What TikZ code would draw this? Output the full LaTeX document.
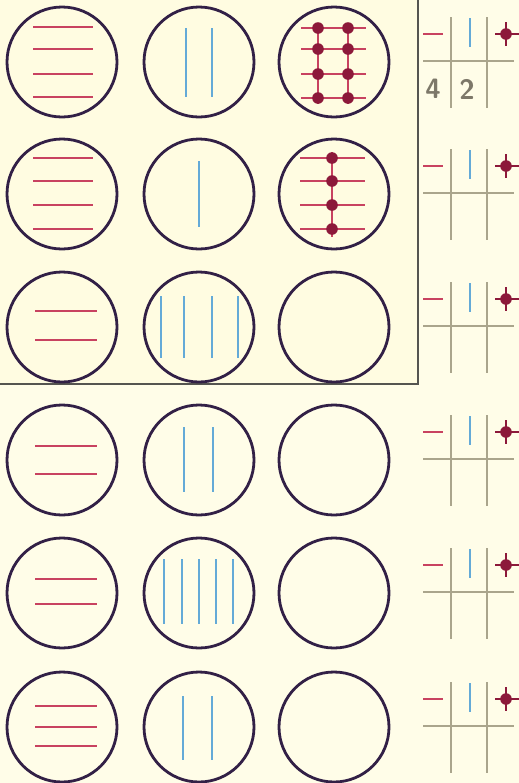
\documentclass[tikz,border=0pt]{standalone}
\usepackage{tikz}

\definecolor{paper}{RGB}{255,253,232}
\definecolor{panel}{RGB}{255,252,225}
\definecolor{ringcol}{RGB}{50,32,70}
\definecolor{redcol}{RGB}{200,66,96}
\definecolor{bluecol}{RGB}{100,170,215}
\definecolor{dotcol}{RGB}{140,25,58}
\definecolor{gridcol}{RGB}{170,165,140}
\definecolor{digitcol}{RGB}{125,120,105}
\definecolor{framecol}{RGB}{85,85,80}

\begin{document}
\begin{tikzpicture}[x=0.5pt,y=-0.5pt,
    ring/.style={circle,draw=ringcol,line width=1.4pt,minimum size=55pt,inner sep=0pt},
    redl/.style={draw=redcol,line width=0.85pt},
    bluel/.style={draw=bluecol,line width=0.75pt},
    gridl/.style={draw=gridcol,line width=0.7pt},
    dotl/.style={draw=dotcol,line width=0.8pt},
    digit/.style={text=digitcol,font=\fontsize{14}{14}\sffamily\bfseries,inner sep=0pt}]
        \fill[paper] (0,0) rectangle (519,783);
        \useasboundingbox (0,0) rectangle (519,783);
        \fill[panel] (0,0) rectangle (418,384);
        \draw[framecol,line width=0.6pt] (418,0) -- (418,384) -- (0,384);
        % circles
        \foreach \y [count=\i] in {62,194,327,460,593,727} \foreach \x [count=\j] in {62,199,334}
            \node[ring] (c\i\j) at (\x,\y) {};
        % row 1
        \foreach \d in {-35,-13,12,35} \draw[redl] (c11.center) ++(-29,\d) -- ++(60,0);
        \foreach \s in {-13,13} \draw[bluel] (c12.center) ++(\s,-34) -- ++(0,69);
        \foreach \d in {-34,-13,12,36} \draw[redl] (c13.center) ++(-33,\d) -- ++(65,0);
        \foreach \s in {-16,14}{
            \draw[redl] (c13.center) ++(\s,-39) -- ++(0,81);
            \foreach \d in {-34,-13,12,36} \fill[dotcol] (c13.center) ++(\s,\d) circle (2.9pt);
        }
        % row 2
        \foreach \d in {-36,-13,11,35} \draw[redl] (c21.center) ++(-29,\d) -- ++(60,0);
        \draw[bluel] (c22.center) ++(0,-33) -- ++(0,66);
        \draw[redl] (c23.center) ++(-2,-42) -- ++(0,85);
        \foreach \d in {-36,-13,11,35}{
            \draw[redl] (c23.center) ++(-34,\d) -- ++(65,0);
            \fill[dotcol] (c23.center) ++(-2,\d) circle (2.9pt);
        }
        % row 3
        \foreach \d in {-16,13} \draw[redl] (c31.center) ++(-27,\d) -- ++(62,0);
        \foreach \s in {-38,-15,13,39} \draw[bluel] (c32.center) ++(\s,-31) -- ++(0,62);
        % row 4
        \foreach \d in {-14,14} \draw[redl] (c41.center) ++(-27,\d) -- ++(62,0);
        \foreach \s in {-15,14} \draw[bluel] (c42.center) ++(\s,-33) -- ++(0,65);
        % row 5
        \foreach \d in {-14,11} \draw[redl] (c51.center) ++(-27,\d) -- ++(62,0);
        \foreach \s in {-35,-17,0,17,34} \draw[bluel] (c52.center) ++(\s,-34) -- ++(0,65);
        % row 6
        \foreach \d in {-21,0,19} \draw[redl] (c61.center) ++(-27,\d) -- ++(62,0);
        \foreach \s in {-16,13} \draw[bluel] (c62.center) ++(\s,-31) -- ++(0,64);
        % keys
        \foreach \y [count=\i] in {62,194,327,460,593,727}{
            \coordinate (k\i) at (470,\y);
            \draw[redl] (k\i) ++(-47,-28) -- ++(20,0);
            \draw[gridl] (k\i) ++(-19,-45) -- ++(0,91);
            \draw[gridl] (k\i) ++(17,-45) -- ++(0,91);
            \draw[gridl] (k\i) ++(-47,-1) -- ++(91,0);
            \draw[bluel] (k\i) ++(0,-44) -- ++(0,29);
            \draw[dotl] (k\i) ++(25,-28) -- ++(24,0);
            \draw[dotl] (k\i) ++(36,-40) -- ++(0,24);
            \fill[dotcol] (k\i) ++(36,-28) circle (2.9pt);
        }
        \node[digit] (n4) at (433,89) {4};
        \node[digit] (n2) at (467,89) {2};
    \end{tikzpicture}
\end{document}
